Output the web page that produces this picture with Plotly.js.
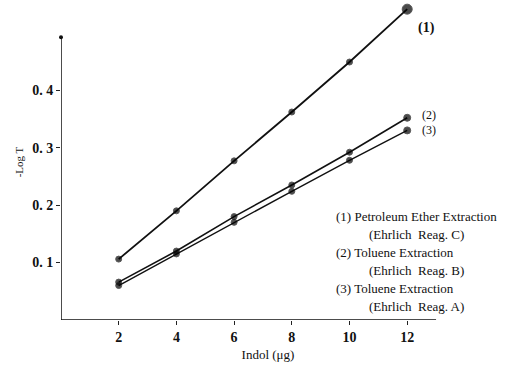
<!DOCTYPE html>
<html>
<head>
<meta charset="utf-8">
<script src="https://cdn.plot.ly/plotly-3.0.1.min.js"></script>
<style>html,body{margin:0;padding:0;background:#fff;}#chart{width:517px;height:369px;}</style>
</head>
<body>
<div id="chart"></div>
<script>
var indol = [2, 4, 6, 8, 10, 12];
var series1 = [0.106, 0.190, 0.277, 0.362, 0.449, 0.541];
var series2 = [0.066, 0.120, 0.180, 0.235, 0.292, 0.352];
var series3 = [0.060, 0.115, 0.170, 0.224, 0.278, 0.330];
var xTicks = [2, 4, 6, 8, 10, 12];
var yTicks = [0.1, 0.2, 0.3, 0.4];
var yTickText = ['0. 1', '0. 2', '0. 3', '0. 4'];
var seriesLabels = ['(1)', '(2)', '(3)'];
var legendLines = [
  '(1) Petroleum Ether Extraction',
  '(Ehrlich  Reag. C)',
  '(2) Toluene Extraction',
  '(Ehrlich  Reag. B)',
  '(3) Toluene Extraction',
  '(Ehrlich  Reag. A)'
];

var serif = 'Liberation Serif, DejaVu Serif, serif';
var M = {l: 61, r: 42, t: 4, b: 49};
var W = 517, H = 369;
var PW = W - M.l - M.r, PH = H - M.t - M.b;
function px(x) { return (x - M.l) / PW; }
function py(y) { return (H - M.b - y) / PH; }

function trace(y, w, sizes) {
  return {
    x: indol, y: y, type: 'scatter', mode: 'lines+markers',
    line: {color: '#111', width: w},
    marker: {color: '#000', size: sizes},
    hoverinfo: 'none', showlegend: false, cliponaxis: false
  };
}

var data = [
  trace(series1, 1.8, [6, 6, 6, 6, 6, 10]),
  trace(series2, 1.6, [6, 6, 6, 6, 6, 7]),
  trace(series3, 1.4, [6, 6, 6, 6, 6, 7])
];

var annotations = [];
annotations.push({x: 12, y: series1[5], xref: 'x', yref: 'y', text: '<b>' + seriesLabels[0] + '</b>',
  showarrow: false, xanchor: 'left', yanchor: 'middle', xshift: 10, yshift: -19, borderpad: 0,
  font: {family: serif, size: 14, color: '#111'}});
annotations.push({x: 12, y: series2[5], xref: 'x', yref: 'y', text: seriesLabels[1],
  showarrow: false, xanchor: 'left', yanchor: 'middle', xshift: 14, yshift: 3, borderpad: 0,
  font: {family: serif, size: 12, color: '#111'}});
annotations.push({x: 12, y: series3[5], xref: 'x', yref: 'y', text: seriesLabels[2],
  showarrow: false, xanchor: 'left', yanchor: 'middle', xshift: 14, yshift: 0, borderpad: 0,
  font: {family: serif, size: 12, color: '#111'}});

var legendTop = 216;
var legendStep = 18;
legendLines.forEach(function (t, i) {
  var indent = (i % 2 === 1);
  annotations.push({
    x: px(indent ? 368 : 335),
    y: py(legendTop + i * legendStep),
    xref: 'paper', yref: 'paper', text: t, showarrow: false,
    xanchor: 'left', yanchor: 'middle', borderpad: 0,
    font: {family: serif, size: 13, color: '#111'}
  });
});

var layout = {
  width: W, height: H,
  margin: M,
  paper_bgcolor: '#fff', plot_bgcolor: '#fff',
  showlegend: false,
  xaxis: {
    range: [0, 14.35], showgrid: false, zeroline: false, showline: false,
    tickvals: xTicks, ticks: 'outside', ticklen: 4, tickcolor: '#222', tickwidth: 1,
    tickfont: {family: serif, size: 14, color: '#111', weight: 'bold'},
    title: {text: 'Indol (\u03bcg)', font: {family: serif, size: 13, color: '#111'}, standoff: 6}
  },
  yaxis: {
    range: [0, 0.55], showgrid: false, zeroline: false, showline: false,
    tickvals: yTicks, ticktext: yTickText, ticks: 'outside', ticklen: 4, tickcolor: '#222', tickwidth: 1,
    tickfont: {family: serif, size: 14, color: '#111', weight: 'bold'},
    title: {text: '-Log T', font: {family: serif, size: 11, color: '#111'}, standoff: 6}
  },
  shapes: [
    {type: 'line', xref: 'x', yref: 'y', x0: 0, x1: 13, y0: 0, y1: 0, line: {color: '#111', width: 1.5}},
    {type: 'line', xref: 'x', yref: 'y', x0: 0, x1: 0, y0: 0, y1: 0.492, line: {color: '#111', width: 1.5}}
  ],
  annotations: annotations
};

data.push({x: [0], y: [0.492], type: 'scatter', mode: 'markers', marker: {color: '#111', size: 4},
  hoverinfo: 'none', showlegend: false, cliponaxis: false});

Plotly.newPlot('chart', data, layout, {displayModeBar: false, staticPlot: true});
</script>
</body>
</html>
